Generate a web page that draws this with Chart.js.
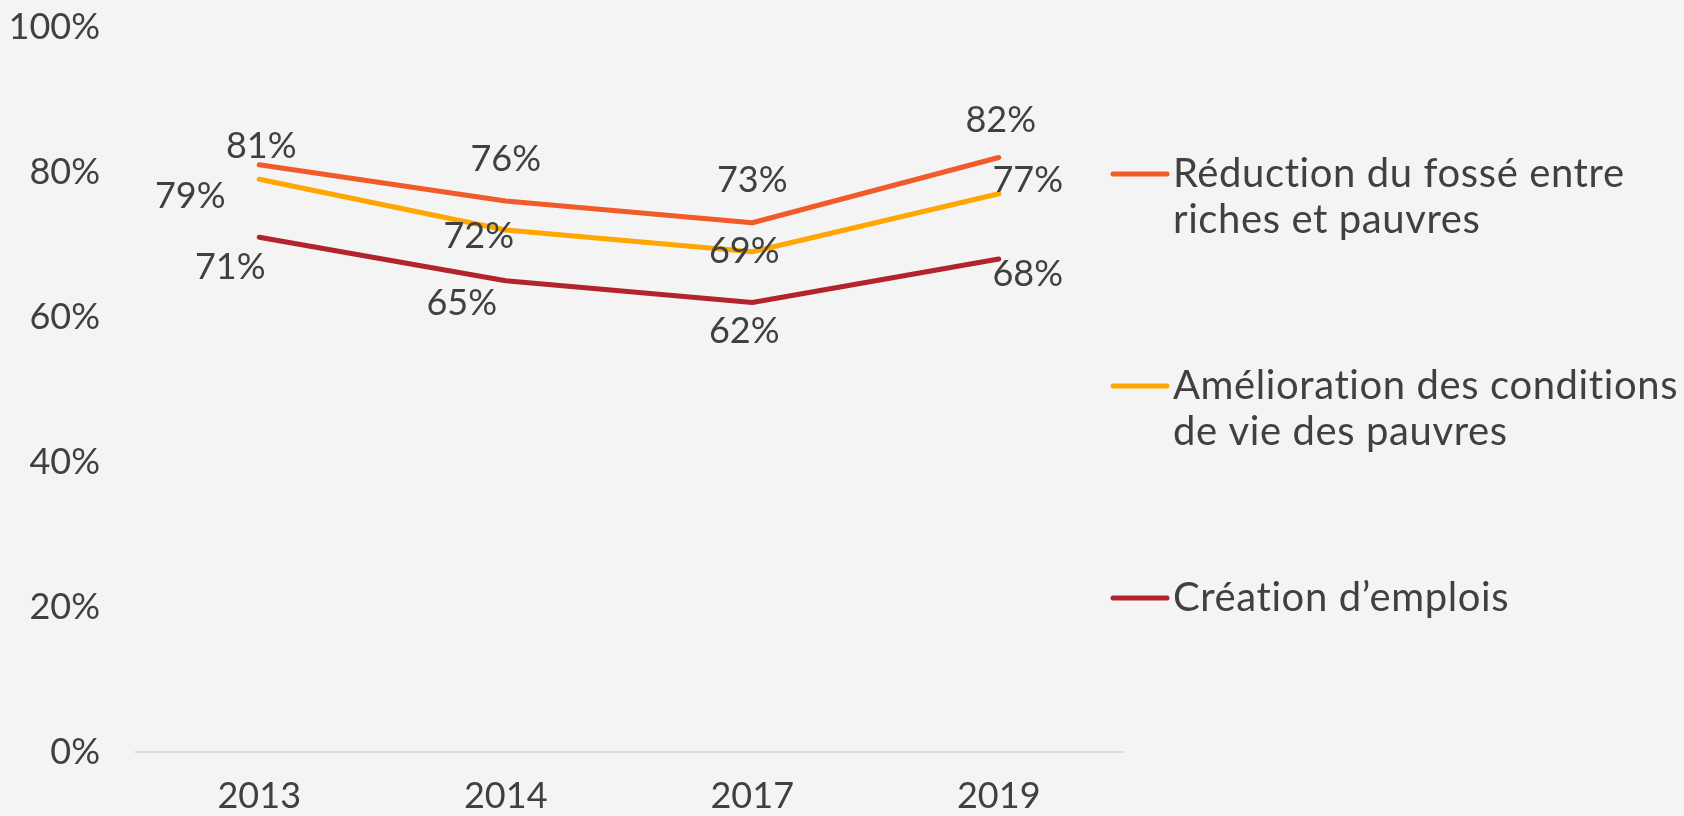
<!DOCTYPE html>
<html>
<head>
<meta charset="utf-8">
<script src="https://cdn.jsdelivr.net/npm/chart.js@4.4.1/dist/chart.umd.min.js"></script>
<style>
  html, body { margin: 0; padding: 0; background: #f4f4f4; }
  #wrap { width: 1684px; height: 816px; position: relative; }
</style>
</head>
<body>
<div id="wrap"><canvas id="c" width="1684" height="816"></canvas></div>
<script>
// ---- data ----
const categories = ["2013", "2014", "2017", "2019"];
const reductionFosse = [81, 76, 73, 82];
const ameliorationConditions = [79, 72, 69, 77];
const creationEmplois = [71, 65, 62, 68];
const seriesNames = [
  ["Réduction du fossé entre", "riches et pauvres"],
  ["Amélioration des conditions", "de vie des pauvres"],
  ["Création d’emplois"]
];
const yTicks = [0, 20, 40, 60, 80, 100];

const FONT = "Lato, 'Open Sans', sans-serif";
const TEXT = "#404040";

const dataLabelPlugin = {
  id: 'pointLabels',
  afterDatasetsDraw(chart) {
    const ctx = chart.ctx;
    ctx.save();
    ctx.font = "36px " + FONT;
    ctx.fillStyle = TEXT;
    ctx.textAlign = 'center';
    ctx.textBaseline = 'middle';
    chart.data.datasets.forEach((ds, i) => {
      const meta = chart.getDatasetMeta(i);
      meta.data.forEach((pt, j) => {
        const off = ds.labelOffsets[j];
        ctx.fillText(ds.data[j] + '%', pt.x + off[0], pt.y + off[1]);
      });
    });
    ctx.restore();
  }
};

const legendPlugin = {
  id: 'sideLegend',
  afterDraw(chart) {
    const ctx = chart.ctx;
    const o = chart.options.plugins.sideLegend;
    ctx.save();
    chart.data.datasets.forEach((ds, i) => {
      const y = o.top + i * o.spacing;
      ctx.strokeStyle = ds.borderColor;
      ctx.lineWidth = 5;
      ctx.lineCap = 'round';
      ctx.beginPath();
      ctx.moveTo(o.left, y);
      ctx.lineTo(o.left + o.swatch, y);
      ctx.stroke();
      ctx.font = o.fontSize + "px " + FONT;
      if ('letterSpacing' in ctx) ctx.letterSpacing = o.letterSpacing;
      ctx.fillStyle = TEXT;
      ctx.textAlign = 'left';
      ctx.textBaseline = 'middle';
      seriesNames[i].forEach((line, k) => {
        ctx.fillText(line, o.left + o.swatch + o.gap, y + k * o.lineHeight);
      });
    });
    ctx.restore();
  }
};

const mk = (label, data, color, offsets) => ({
  label, data,
  borderColor: color, backgroundColor: color,
  borderWidth: 5, pointRadius: 0, tension: 0,
  borderCapStyle: 'round', borderJoinStyle: 'round',
  labelOffsets: offsets
});

new Chart(document.getElementById('c'), {
  type: 'line',
  data: {
    labels: categories,
    datasets: [
      mk(seriesNames[0].join(' '), reductionFosse, '#F15A29', [[2,-18],[0,-42],[0,-42],[2,-37]]),
      mk(seriesNames[1].join(' '), ameliorationConditions, '#FFA600', [[-69,17],[-27,6],[-8,0],[29,-13]]),
      mk(seriesNames[2].join(' '), creationEmplois, '#B2232D', [[-29,30],[-44,23],[-8,29],[29,15]])
    ]
  },
  options: {
    responsive: false,
    animation: false,
    layout: { padding: { top: 27, right: 562, left: 0, bottom: 0 } },
    plugins: {
      legend: { display: false },
      tooltip: { enabled: false },
      sideLegend: { top: 174, spacing: 212, left: 1113, swatch: 54, gap: 6, fontSize: 40, lineHeight: 46, letterSpacing: '0.6px' }
    },
    scales: {
      x: {
        offset: true,
        grid: { display: false, drawTicks: false },
        border: { display: true, color: '#d9d9d9', width: 2 },
        ticks: { color: TEXT, font: { family: FONT, size: 36 }, padding: 23 },
        afterFit(s) { s.height = 64; s.paddingLeft = 0; s.paddingRight = 0; }
      },
      y: {
        min: 0, max: 100,
        grid: { display: false, drawTicks: false },
        border: { display: false },
        afterBuildTicks(s) { s.ticks = yTicks.map(v => ({ value: v })); },
        ticks: { color: TEXT, font: { family: FONT, size: 36 }, padding: 36, callback: v => v + '%' },
        afterFit(s) { s.width = 136; s.paddingTop = 0; s.paddingBottom = 0; }
      }
    }
  },
  plugins: [dataLabelPlugin, legendPlugin]
});
</script>
</body>
</html>
